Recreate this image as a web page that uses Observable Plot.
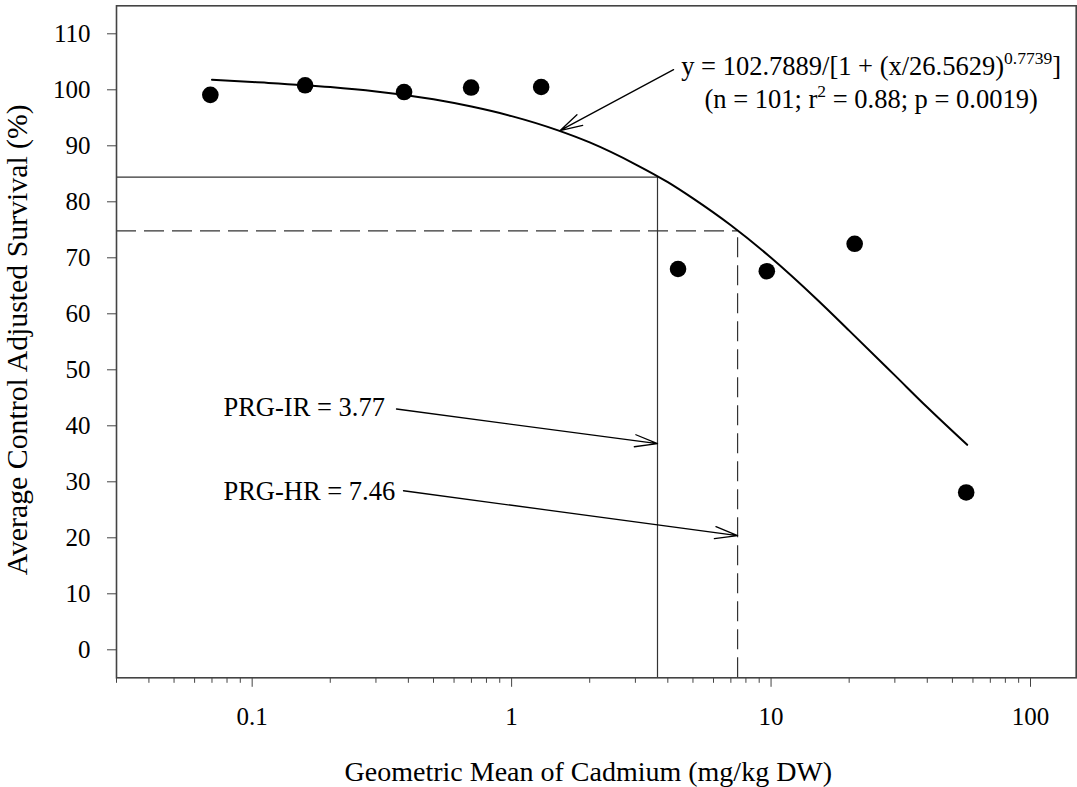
<!DOCTYPE html>
<html><head><meta charset="utf-8">
<script src="https://cdn.jsdelivr.net/npm/d3@7"></script>
<script src="https://cdn.jsdelivr.net/npm/@observablehq/plot@0.6"></script>
<style>
html,body{margin:0;padding:0;background:#fff;}
#chart svg{display:block;}
</style>
</head><body><div id="chart"></div>
<script>
// Observed points (geometric mean Cd, survival %)
const cadmium = [0.069, 0.160, 0.385, 0.698, 1.30, 4.38, 9.63, 21.0, 56.5];
const survival = [99.1, 100.8, 99.6, 100.4, 100.5, 68.0, 67.6, 72.5, 28.1];

// Fitted curve
const curveX = [0.07, 0.1, 0.2, 0.3, 0.5, 0.7, 1, 1.5, 2, 3, 4, 5, 7, 10, 15, 20, 30, 40, 57];
const curveY = [101.8, 101.4, 100.5, 99.7, 98.3, 97.0, 95.3, 92.8, 90.6, 86.7, 83.5, 80.6, 75.8, 70.0, 62.6, 57.0, 49.0, 43.3, 36.6];

// PRG reference values
const prgX = [3.65, 7.43];
const prgY = [84.4, 74.8];
const prgLabels = ["PRG-IR = 3.77", "PRG-HR = 7.46"];

// Axis ticks
const xMajorTicks = [0.1, 1, 10, 100];
const xTickLabels = ["0.1", "1", "10", "100"];
const xMinorTicks = [0.03,0.04,0.05,0.06,0.07,0.08,0.09, 0.2,0.3,0.4,0.5,0.6,0.7,0.8,0.9, 2,3,4,5,6,7,8,9, 20,30,40,50,60,70,80,90];
const yTicks = [0,10,20,30,40,50,60,70,80,90,100,110];
const yTickLabels = ["0","10","20","30","40","50","60","70","80","90","100","110"];

const xTitle = "Geometric Mean of Cadmium (mg/kg DW)";
const yTitle = "Average Control Adjusted Survival (%)";
const eqLine1 = "y = 102.7889/[1 + (x/26.5629)0.7739]";
const eqLine2 = "(n = 101; r2 = 0.88; p = 0.0019)";

const points = cadmium.map((x, i) => ({x, y: survival[i]}));
const curve = curveX.map((x, i) => ({x, y: curveY[i]}));
const xLabelData = xMajorTicks.map((v, i) => ({v, t: xTickLabels[i]}));
const yLabelData = yTicks.map((v, i) => ({v, t: yTickLabels[i]}));

const serif = "'Liberation Serif', 'Times New Roman', serif";

const plot = Plot.plot({
  width: 1077,
  height: 787,
  marginLeft: 116,
  marginRight: 1.3,
  marginTop: 5.3,
  marginBottom: 109.7,
  style: {fontFamily: serif, fontSize: "26px", background: "white", color: "black"},
  x: {type: "log", domain: [0.03, 150]},
  y: {domain: [-5, 115]},
  marks: [
    // reference lines
    Plot.ruleY([prgY[0]], {x1: 0.03, x2: prgX[0], stroke: "#333", strokeWidth: 1.2}),
    Plot.ruleX([prgX[0]], {y1: -5, y2: prgY[0], stroke: "#333", strokeWidth: 1.2}),
    Plot.ruleY([prgY[1]], {x1: 0.03, x2: prgX[1], stroke: "#333", strokeWidth: 1.2, strokeDasharray: "20,8"}),
    Plot.ruleX([prgX[1]], {y1: -5, y2: prgY[1], stroke: "#333", strokeWidth: 1.2, strokeDasharray: "20,8"}),
    // curve
    Plot.line(curve, {x: "x", y: "y", curve: "monotone-x", stroke: "black", strokeWidth: 2}),
    // points
    Plot.dot(points, {x: "x", y: "y", r: 8.3, fill: "black", stroke: "none"}),
    // arrows
    Plot.arrow([
      {x1: 4.21, y1: 103.6, x2: 1.535, y2: 92.7},
      {x1: 0.36, y1: 43.0, x2: prgX[0], y2: 36.8},
      {x1: 0.383, y1: 28.4, x2: prgX[1], y2: 20.4}
    ], {x1: "x1", y1: "y1", x2: "x2", y2: "y2", stroke: "black", strokeWidth: 1.3, headLength: 27, headAngle: 30}),
    // annotation texts
    Plot.text([{t: prgLabels[0], x: 0.0775, y: 43.2}, {t: prgLabels[1], x: 0.0775, y: 28.3}],
      {x: "x", y: "y", text: "t", textAnchor: "start", fontSize: 26.5, fill: "black"}),
    Plot.text([{t: eqLine1, x: 24.3, y: 104.2}, {t: eqLine2, x: 24.3, y: 98.3}],
      {x: "x", y: "y", text: "t", textAnchor: "middle", fontSize: 26.5, fill: "black"}),
    // axes (ticks)
    Plot.axisY(yTicks, {tickSize: 9, tickFormat: () => "", stroke: "#444", label: null}),
    Plot.axisX(xMajorTicks, {tickSize: 9.5, tickFormat: () => "", stroke: "#444", label: null}),
    Plot.axisX(xMinorTicks, {tickSize: 5.5, tickFormat: () => "", stroke: "#444", label: null}),
    // tick labels
    Plot.text(yLabelData, {y: "v", text: "t", frameAnchor: "left", dx: -26, textAnchor: "end", lineAnchor: "middle", fontSize: 25, fill: "black"}),
    Plot.text(xLabelData, {x: "v", text: "t", frameAnchor: "bottom", dy: 39.5, textAnchor: "middle", lineAnchor: "middle", fontSize: 25, fill: "black"}),
    // titles
    Plot.text([xTitle], {frameAnchor: "bottom", dy: 94.5, dx: -8, textAnchor: "middle", fontSize: 28, fill: "black", lineAnchor: "middle"}),
    Plot.text([yTitle], {frameAnchor: "left", dx: -99, dy: -2, rotate: -90, textAnchor: "middle", fontSize: 29.8, fill: "black", lineAnchor: "middle"}),
    Plot.frame({stroke: "#444", strokeWidth: 1.6})
  ]
});

// superscripts
d3.select(plot).selectAll("text").each(function() {
  const t = this.textContent;
  let parts = null;
  if (t === eqLine1) parts = [["y = 102.7889/[1 + (x/26.5629)", 0], ["0.7739", 1], ["]", 0]];
  if (t === eqLine2) parts = [["(n = 101; r", 0], ["2", 1], [" = 0.88; p = 0.0019)", 0]];
  if (!parts) return;
  this.textContent = "";
  let raised = false;
  for (const [s, sup] of parts) {
    const ts = document.createElementNS("http://www.w3.org/2000/svg", "tspan");
    ts.textContent = s;
    if (sup) { ts.setAttribute("dy", "-11"); ts.setAttribute("font-size", "17.5"); raised = true; }
    else if (raised) { ts.setAttribute("dy", "11"); raised = false; }
    this.appendChild(ts);
  }
});

document.getElementById("chart").appendChild(plot);
</script>
</body></html>
